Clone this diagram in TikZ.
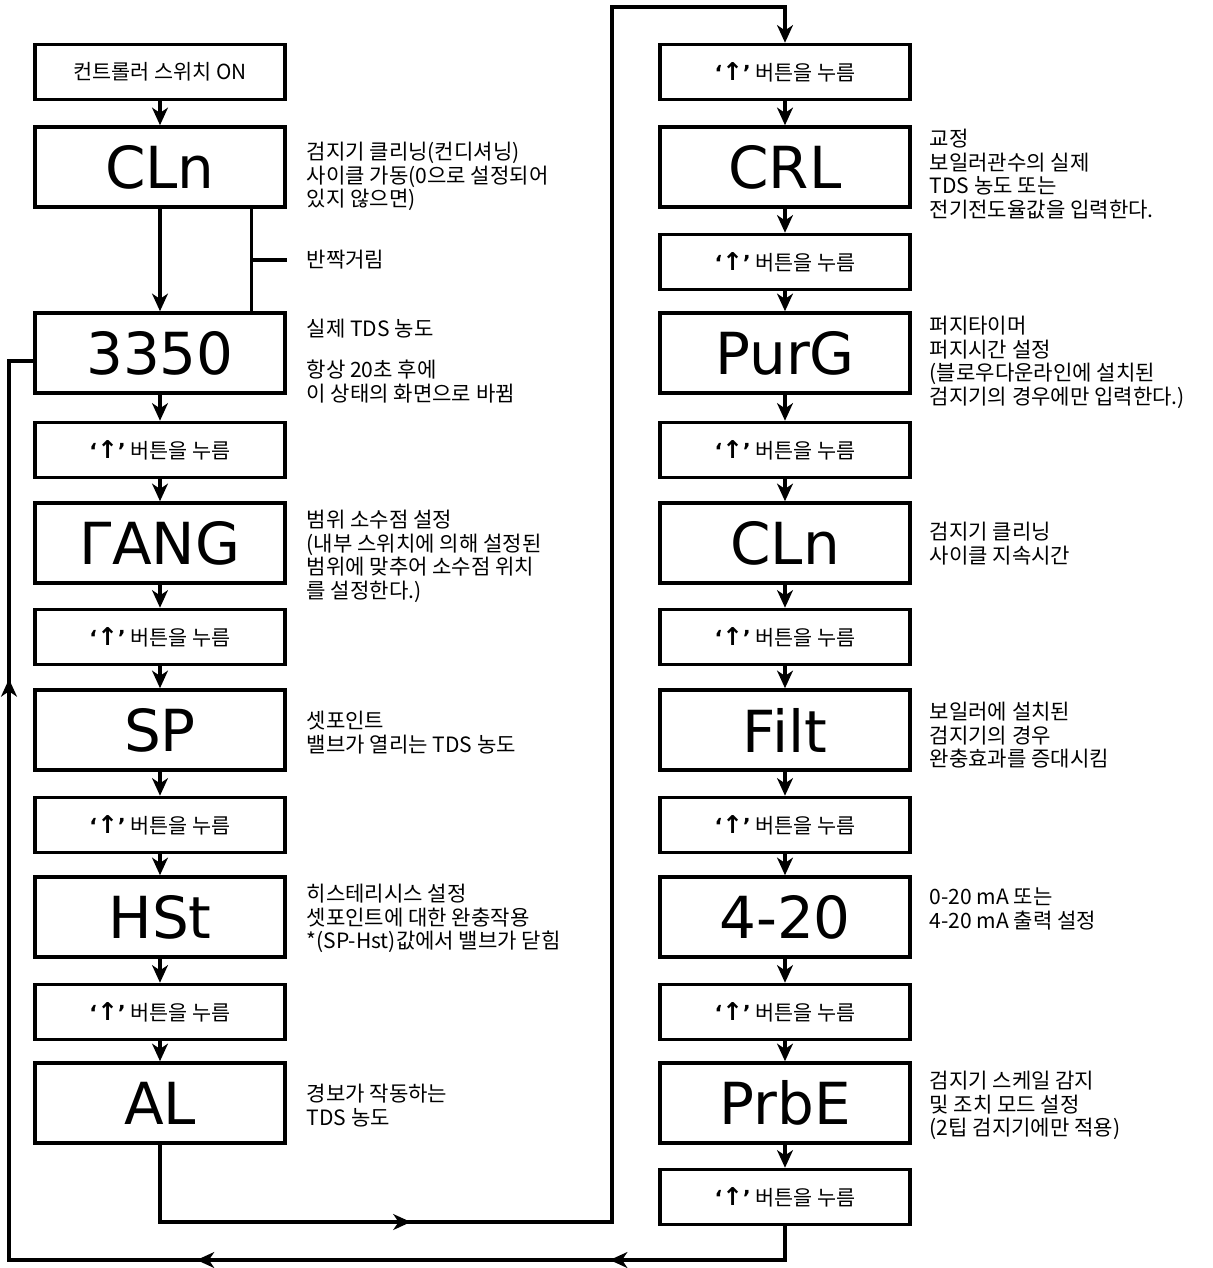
\documentclass[tikz,border=0pt]{standalone}
\usepackage{fontspec}
\setmainfont{Noto Sans CJK KR}
\newfontfamily\segfont{DejaVu Sans}
\newfontfamily\symfont{DejaVu Sans}
\usetikzlibrary{arrows.meta,decorations.markings}

\newcommand\pressup{{\symfont\bfseries ‘{\fontsize{14}{14}\selectfont↑}’}\ 버튼을 누름}

\begin{document}
\begin{tikzpicture}[x=0.02cm,y=-0.02cm,line width=2pt,
    >={Stealth[length=10pt,width=9pt,inset=3pt]},
    disp/.style={draw,minimum width=5cm,minimum height=1.6cm,
      font=\segfont\fontsize{33}{33}\selectfont},
    btn/.style={draw,minimum width=5cm,minimum height=1.1cm,
      font=\fontsize{11.8}{13.6}\selectfont},
    note/.style={anchor=north west,inner sep=0pt,align=left,
      font=\fontsize{12}{13.6}\selectfont},
    arrowat/.style={postaction={decorate,decoration={markings,
      mark=at position #1 with {\arrow{>}}}}}]
  \useasboundingbox (0,0) rectangle (1213,1268);
  % left column
  \node[btn] (on) at (160,72) {컨트롤러 스위치 ON};
  \node[disp] (cln) at (160,167) {CLn};
  \node[disp] (val) at (160,353) {3350};
  \node[btn] (b1) at (160,450) {\pressup};
  \node[disp] (rang) at (160,543) {ΓANG};
  \node[btn] (b2) at (160,637) {\pressup};
  \node[disp] (sp) at (160,730) {SP};
  \node[btn] (b3) at (160,825) {\pressup};
  \node[disp] (hst) at (160,917) {HSt};
  \node[btn] (b4) at (160,1012) {\pressup};
  \node[disp] (al) at (160,1103) {AL};
  % right column
  \node[btn] (rb1) at (785,72) {\pressup};
  \node[disp] (crl) at (785,167) {CRL};
  \node[btn] (rb2) at (785,262) {\pressup};
  \node[disp] (purg) at (785,353) {PurG};
  \node[btn] (rb3) at (785,450) {\pressup};
  \node[disp] (clnt) at (785,543) {CLn};
  \node[btn] (rb4) at (785,637) {\pressup};
  \node[disp] (filt) at (785,730) {Filt};
  \node[btn] (rb5) at (785,825) {\pressup};
  \node[disp] (mA) at (785,917) {4-20};
  \node[btn] (rb6) at (785,1012) {\pressup};
  \node[disp] (prbe) at (785,1103) {PrbE};
  \node[btn] (rb7) at (785,1197) {\pressup};

  \foreach \a/\b in {on/cln,cln/val,val/b1,b1/rang,rang/b2,b2/sp,sp/b3,b3/hst,
      hst/b4,b4/al,rb1/crl,crl/rb2,rb2/purg,purg/rb3,rb3/clnt,clnt/rb4,
      rb4/filt,filt/rb5,rb5/mA,mA/rb6,rb6/prbe,prbe/rb7}
    \draw[->] (\a) -- (\b);

  % blinking
  \node[note,anchor=west] (blink) at (305,260) {반짝거림};
  \draw ([xshift=-0.7cm]cln.south east) coordinate (bl)
    -- ([xshift=-0.7cm]val.north east);
  \draw (bl |- blink.west) -- (cln.east |- blink.west);

  % loops
  \draw[->,arrowat=0.168] (al.south) -- (160,1222) -- (612,1222) -- (612,7)
    -- (rb1.north |- 0,7) -- (rb1.north);
  \draw[arrowat=0.1206,arrowat=0.359,arrowat=0.8025] (rb7.south) -- (785,1260)
    -- (9,1260) -- (9,361) -- (val.west |- 0,361);

  % notes
  \node[note] (n1) at (305,140) {검지기 클리닝(컨디셔닝)\\사이클 가동(0으로 설정되어\\있지 않으면)};
  \node[note] (n2) at (305,317) {실제 TDS 농도\\[10pt]항상 20초 후에\\이 상태의 화면으로 바뀜};
  \node[note] (n3) at (305,508) {범위 소수점 설정\\(내부 스위치에 의해 설정된\\범위에 맞추어 소수점 위치\\를 설정한다.)};
  \node[note] (n4) at (305,709) {셋포인트\\밸브가 열리는 TDS 농도};
  \node[note] (n5) at (305,882) {히스테리시스 설정\\셋포인트에 대한 완충작용\\*(SP-Hst)값에서 밸브가 닫힘};
  \node[note] (n6) at (305,1082) {경보가 작동하는\\TDS 농도};
  \node[note] (n7) at (928,127) {교정\\보일러관수의 실제\\TDS 농도 또는\\전기전도율값을 입력한다.};
  \node[note] (n8) at (928,314) {퍼지타이머\\퍼지시간 설정\\(블로우다운라인에 설치된\\검지기의 경우에만 입력한다.)};
  \node[note] (n9) at (928,520) {검지기 클리닝\\사이클 지속시간};
  \node[note] (n10) at (928,700) {보일러에 설치된\\검지기의 경우\\완충효과를 증대시킴};
  \node[note] (n11) at (928,886) {0-20 mA 또는\\4-20 mA 출력 설정};
  \node[note] (n12) at (928,1069) {검지기 스케일 감지\\및 조치 모드 설정\\(2팁 검지기에만 적용)};
\end{tikzpicture}
\end{document}
